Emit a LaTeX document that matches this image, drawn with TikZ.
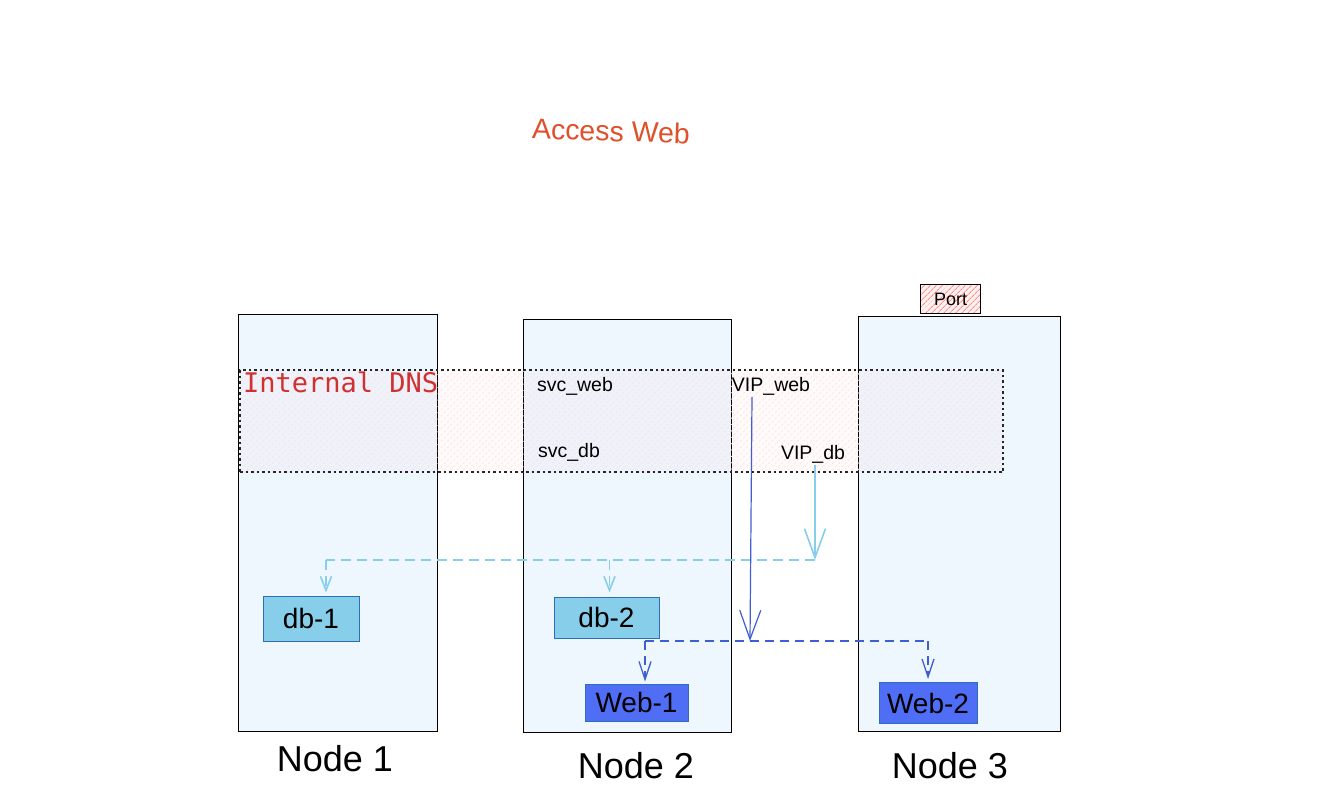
\documentclass[tikz,border=0pt]{standalone}
\usepackage{fontspec}
\setmainfont{Liberation Sans}
\newfontfamily\dnsmono{DejaVu Sans Mono}
\usetikzlibrary{arrows.meta,patterns.meta}
\definecolor{nodefill}{HTML}{EEF6FE}
\definecolor{skyb}{HTML}{87CEEB}
\definecolor{dbborder}{HTML}{2F6DB5}
\definecolor{webfill}{HTML}{4F6EF5}
\definecolor{webline}{HTML}{3F5FD0}
\definecolor{accent}{HTML}{E0502A}
\definecolor{dnsred}{HTML}{D03030}
\begin{document}
\begin{tikzpicture}[x=1pt,y=-1pt,
  hostbox/.style={draw=black, line width=0.9pt, fill=nodefill, inner sep=0pt},
  hostlabel/.style={font=\fontsize{36}{40}\selectfont, inner sep=0pt},
  dnsband/.style={draw=black!85, line width=1.2pt, dash pattern=on 2.5pt off 3pt,
     preaction={fill=red, fill opacity=0.015},
     pattern={Lines[angle=45,distance=4.5pt,line width=0.6pt]}, pattern color=red!12, inner sep=0pt},
  portbox/.style={draw=black, line width=0.9pt, fill=white,
     preaction={fill=red!6},
     pattern={Lines[angle=45,distance=4pt,line width=0.9pt]}, pattern color=red!45, inner sep=0pt,
     font=\fontsize{18}{20}\selectfont},
  svctext/.style={font=\fontsize{19.5}{22}\selectfont, inner sep=0pt},
  dbbox/.style={draw=dbborder, line width=1pt, fill=skyb, inner sep=0pt, font=\fontsize{28}{32}\selectfont},
  webbox/.style={draw=dbborder, line width=1pt, fill=webfill, inner sep=0pt, font=\fontsize{28}{32}\selectfont},
  bigtip/.tip={Straight Barb[length=29pt,width=21pt]},
  smalltip/.tip={Straight Barb[length=14pt,width=11pt]},
  webtip/.tip={Straight Barb[length=18pt,width=12pt]},
  skysolid/.style={draw=skyb, line width=1.6pt},
  skydash/.style={draw=skyb, line width=1.6pt, dash pattern=on 10pt off 6pt},
  websolid/.style={draw=webline, line width=1.2pt},
  webdash/.style={draw=webline, line width=1.3pt, dash pattern=on 9pt off 6pt}
]
\useasboundingbox[fill=white] (0,0) rectangle (1319,806);

% title
\node[text=accent, font=\fontsize{28.5}{32}\selectfont, rotate=-2, inner sep=0pt] (title) at (611,131) {Access Web};

% host boxes
\node[hostbox, minimum width=199pt, minimum height=417pt] (n1) at (337.5,522.5) {};
\node[hostbox, minimum width=208pt, minimum height=413pt] (n2) at (627,525.5) {};
\node[hostbox, minimum width=202pt, minimum height=415pt] (n3) at (959,523.5) {};

\node[hostlabel] (l1) at (335,759) {Node 1};
\node[hostlabel] (l2) at (636,766) {Node 2};
\node[hostlabel] (l3) at (950,766) {Node 3};

% port
\node[portbox, minimum width=60pt, minimum height=29pt] (port) at (950.5,299) {Port};

% internal DNS band
\node[dnsband, minimum width=763pt, minimum height=102pt] (dns) at (621.5,421) {};
\node[text=dnsred, font=\dnsmono\fontsize{27}{30}\selectfont, inner sep=0pt, anchor=west] (dnslabel) at (243,382) {Internal DNS};

\node[svctext] (svcweb) at (575,386) {svc\_web};
\node[svctext] (svcdb) at (569,452) {svc\_db};
\node[svctext] (vipweb) at (771,386) {VIP\_web};
\node[svctext] (vipdb) at (813,454) {VIP\_db};

% workloads
\node[dbbox, minimum width=96pt, minimum height=45pt] (db1) at (311,618.5) {db-1};
\node[dbbox, minimum width=105pt, minimum height=41pt] (db2) at (606.5,617.5) {db-2};
\node[webbox, minimum width=103pt, minimum height=37pt] (web1) at (636.5,702.5) {Web-1};
\node[webbox, minimum width=98pt, minimum height=41pt] (web2) at (928,703) {Web-2};

% junctions
\coordinate (jdb) at (815,560);
\coordinate (jweb) at (750,641);
\coordinate (a1) at ([xshift=15pt]db1.north |- jdb);
\coordinate (a2) at ([xshift=3pt]db2.north |- jdb);
\coordinate (b1) at ([xshift=8.5pt]web1.north |- jweb);
\coordinate (b2) at (web2.north |- jweb);

% db routing
\draw[skysolid, -{bigtip}] ([xshift=2pt,yshift=-2pt]vipdb.south) -- (jdb);
\draw[skydash] (jdb) -- (a1);
\draw[skydash, -{smalltip}, shorten >=3pt] (a1) -- ([xshift=15pt]db1.north);
\draw[skydash, -{smalltip}, shorten >=4pt] (a2) -- ([xshift=3pt]db2.north);

% web routing
\draw[websolid, -{bigtip}] ([xshift=-19pt,yshift=-2pt]vipweb.south) -- (jweb);
\draw[webdash] (b1) -- (b2);
\draw[webdash, -{webtip}, shorten >=2pt] (b1) -- ([xshift=8.5pt]web1.north);
\draw[webdash, -{webtip}, shorten >=3pt] (b2) -- (web2.north);
\end{tikzpicture}
\end{document}
